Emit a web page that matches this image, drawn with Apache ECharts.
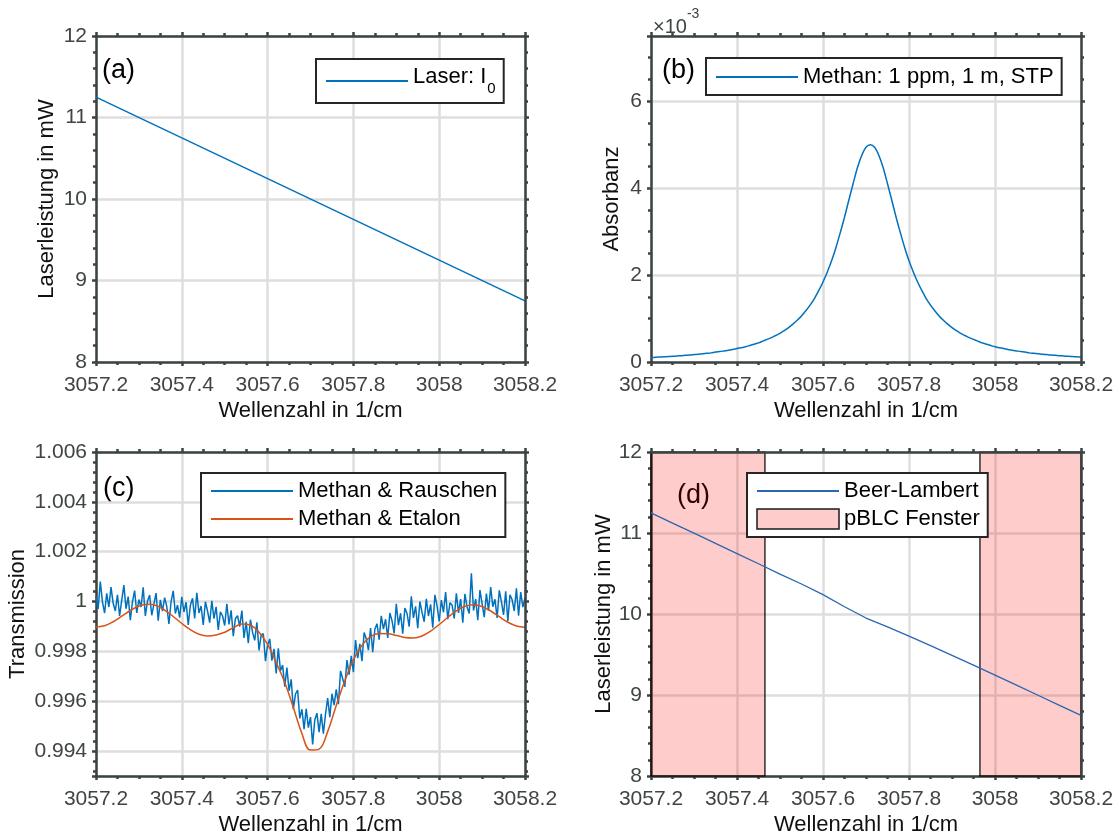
<!DOCTYPE html>
<html>
<head>
<meta charset="utf-8">
<title>Methan Absorption</title>
<script src="https://cdn.jsdelivr.net/npm/echarts@6/dist/echarts.min.js"></script>
<style>
  html, body { margin: 0; padding: 0; background: #fff; }
  #chart { width: 1118px; height: 837px; }
</style>
</head>
<body>
<div id="chart"></div>
<script>
// Wellenzahl-Bereich (1/cm), gilt fuer alle vier Diagramme
var waveLimits = [3057.2, 3058.2];
var powerLimits = [8, 12];
var absLimits = [0, 7.5];
var transLimits = [0.993, 1.006];

// (a) Laserleistung I0
var laserWave = [3057.2, 3058.2];
var laserPower = [11.25, 8.75];

// (b) Absorbanz (x 10^-3), alle 0.01 1/cm ab 3057.2
var absStart = 3057.2;
var absStep = 0.01;
var absValue = [
  0.10, 0.11, 0.115, 0.12, 0.125, 0.13, 0.14, 0.145, 0.155, 0.16,
  0.17, 0.18, 0.19, 0.20, 0.21, 0.23, 0.24, 0.255, 0.27, 0.29,
  0.31, 0.33, 0.35, 0.38, 0.41, 0.44, 0.48, 0.52, 0.56, 0.61,
  0.66, 0.72, 0.79, 0.87, 0.96, 1.06, 1.18, 1.31, 1.46, 1.64,
  1.84, 2.07, 2.33, 2.63, 2.97, 3.33, 3.72, 4.10, 4.47, 4.75,
  4.94, 5.00, 4.94, 4.75, 4.47, 4.10, 3.72, 3.33, 2.97, 2.63,
  2.33, 2.07, 1.84, 1.64, 1.46, 1.31, 1.18, 1.06, 0.96, 0.87,
  0.79, 0.72, 0.66, 0.61, 0.56, 0.52, 0.48, 0.44, 0.41, 0.38,
  0.35, 0.33, 0.31, 0.29, 0.27, 0.255, 0.24, 0.23, 0.21, 0.20,
  0.19, 0.18, 0.17, 0.16, 0.155, 0.145, 0.14, 0.13, 0.125, 0.12,
  0.115
];

// (c) Transmission mit Rauschen, alle 0.005 1/cm ab 3057.2
var rauschStart = 3057.2;
var rauschStep = 0.005;
var rauschValue = [
  1.0002, 0.9997, 1.0008, 0.99999, 0.99954, 1.00033, 0.99978, 1.00058, 0.99993, 0.99962,
  1.00027, 0.99942, 1.00006, 1.00066, 0.99971, 1.0002, 0.99925, 0.99999, 1.00044, 0.99954,
  1.00008, 0.99978, 1.00057, 0.99942, 1.00001, 1.00026, 0.99945, 0.9999, 1.00034, 0.99923,
  1.00007, 0.99962, 1.00016, 0.9998, 0.9991, 0.99999, 1.00043, 0.99952, 0.99986, 0.99935,
  1.00019, 0.99958, 0.99997, 0.99906, 0.99985, 1.00013, 0.99932, 1.00035, 0.99954, 0.99982,
  0.99906, 0.99999, 0.99962, 0.99915, 1.00003, 0.99931, 0.99979, 0.99886, 0.99959, 0.99942,
  0.99904, 0.99991, 0.99908, 0.99965, 0.99861, 0.99932, 0.99943, 0.99899, 0.99964, 0.99854,
  0.99919, 0.99833, 0.99927, 0.99876, 0.99844, 0.99917, 0.99804, 0.99865, 0.99871, 0.99761,
  0.99826, 0.9985, 0.99763, 0.9981, 0.99712, 0.99812, 0.99722, 0.99745, 0.99658, 0.99735,
  0.99642, 0.99688, 0.99568, 0.99629, 0.99645, 0.99531, 0.99568, 0.99488, 0.9957, 0.99494,
  0.99536, 0.99427, 0.99525, 0.99552, 0.99476, 0.99549, 0.9947, 0.99548, 0.99613, 0.99536,
  0.9963, 0.99584, 0.99648, 0.99588, 0.99722, 0.9969, 0.99658, 0.99765, 0.99707, 0.99782,
  0.99717, 0.99845, 0.99773, 0.9983, 0.99761, 0.99876, 0.99851, 0.99805, 0.99894, 0.99797,
  0.99889, 0.99911, 0.99847, 0.99943, 0.99889, 0.99929, 0.99854, 0.99954, 0.99923, 0.99872,
  0.99991, 0.99905, 0.99953, 0.99871, 0.99974, 0.99952, 0.99899, 1.00021, 0.99934, 0.99981,
  0.99893, 1.0, 0.99957, 0.99919, 1.00011, 0.99942, 0.99989, 0.99895, 1.00027, 0.99983,
  0.9992, 1.00006, 0.99957, 1.00038, 0.99929, 0.99995, 0.99986, 0.99932, 1.00033, 0.99954,
  1.0001, 0.99915, 1.00031, 0.99977, 0.99952, 1.00113, 0.99964, 1.0001, 0.99925, 1.00046,
  0.99991, 0.99937, 1.00032, 0.99963, 1.00058, 0.99979, 1.00009, 0.99934, 1.00045, 1.0,
  0.99946, 1.00041, 0.99921, 1.00027, 1.00007, 0.99962, 1.00053, 0.99943, 1.00038, 0.99978,
  1.00014
];

// (c) Transmission mit Etalon, alle 0.02 1/cm ab 3057.2
var etalonStart = 3057.2;
var etalonStep = 0.02;
var etalonValue = [
  0.99898, 0.99903, 0.99919, 0.99941, 0.99964, 0.99982, 0.99989, 0.99984, 0.99966, 0.9994,
  0.99912, 0.99887, 0.99869, 0.99862, 0.99866, 0.99877, 0.99895, 0.9991, 0.99905, 0.99877,
  0.99828, 0.99755, 0.99675, 0.99575, 0.9947, 0.99404, 0.99408, 0.99478, 0.99583, 0.99682,
  0.99766, 0.99824, 0.99859, 0.99872, 0.99871, 0.99864, 0.99856, 0.99854, 0.99862, 0.99881,
  0.99908, 0.99936, 0.99963, 0.99981, 0.99987, 0.9998, 0.99962, 0.99939, 0.99917, 0.99902,
  0.99897
];

// (d) Beer-Lambert und pBLC Fenster
var beerWave = [3057.20, 3057.25, 3057.30, 3057.35, 3057.40, 3057.45, 3057.50, 3057.55, 3057.60,
  3057.65, 3057.70, 3057.75, 3057.80, 3057.85, 3057.90, 3057.95, 3058.00, 3058.05, 3058.10,
  3058.15, 3058.20];
var beerPower = [11.248, 11.123, 10.998, 10.872, 10.746, 10.62, 10.493, 10.37, 10.24,
  10.09, 9.95, 9.84, 9.728, 9.61, 9.49, 9.368, 9.245, 9.121, 8.997,
  8.872, 8.748];
var fensterStart = [3057.2, 3057.965];
var fensterEnd = [3057.465, 3058.2];

var FONT = '"Liberation Sans", Arial, Helvetica, sans-serif';
var AXIS_COLOR = '#3c4343';
var GRID_COLOR = '#dedede';
var BLUE = '#0072BD';
var ORANGE = '#D95319';

function pairs(xs, ys) {
  return xs.map(function (x, i) { return [x, ys[i]]; });
}

function stepped(start, step, ys) {
  return ys.map(function (y, i) { return [start + i * step, y]; });
}

var grids = [
  { left: 96, top: 36, width: 429, height: 326 },
  { left: 651, top: 36, width: 430, height: 326 },
  { left: 96, top: 452, width: 429, height: 324 },
  { left: 651, top: 452, width: 430, height: 324 }
];

// Achse mit Rahmen, nach aussen zeigenden Ticks
function axis(gridIndex, limits, extra, main) {
  var a = {
    type: 'value',
    gridIndex: gridIndex,
    min: limits[0],
    max: limits[1],
    axisLine: { show: true, onZero: false, lineStyle: { color: AXIS_COLOR, width: 2.5 } },
    axisTick: { show: true, inside: false, length: 4, lineStyle: { color: AXIS_COLOR, width: 2.5 } },
    minorTick: { show: true, splitNumber: 4, length: 3, lineStyle: { color: AXIS_COLOR, width: 2.5 } },
    splitLine: { show: false },
    axisLabel: { show: false }
  };
  if (main) {
    a.splitLine = { show: true, lineStyle: { color: GRID_COLOR, width: 2.5 } };
    a.axisLabel = { show: true, color: '#3f4444', fontSize: 21, fontFamily: FONT, margin: 9 };
    a.nameLocation = 'middle';
    a.nameTextStyle = { color: '#111', fontSize: 22, fontFamily: FONT };
  } else {
    a.z = 5;
  }
  return Object.assign(a, extra || {});
}

function xAxes(gridIndex) {
  var fmt = function (v) { return String(+v.toFixed(2)); };
  var main = axis(gridIndex, waveLimits, { position: 'bottom', interval: 0.2, name: 'Wellenzahl in 1/cm', nameGap: 38 }, true);
  main.axisLabel.formatter = fmt;
  main.axisLabel.margin = 13;
  var top = axis(gridIndex, waveLimits, { position: 'top', interval: 0.2 }, false);
  return [main, top];
}

var xa = [].concat(xAxes(0), xAxes(1), xAxes(2), xAxes(3));

var yA = axis(0, powerLimits, { position: 'left', interval: 1, name: 'Laserleistung in mW', nameGap: 38 }, true);
yA.minorTick.splitNumber = 5;
var yAr = axis(0, powerLimits, { position: 'right', interval: 1 }, false);
yAr.minorTick.splitNumber = 5;

var yB = axis(1, absLimits, { position: 'left', splitNumber: 4, name: 'Absorbanz', nameGap: 28 }, true);
yB.axisLabel.showMaxLabel = false;
var yBr = axis(1, absLimits, { position: 'right', splitNumber: 4 }, false);

var yC = axis(2, transLimits, { position: 'left', splitNumber: 6, name: 'Transmission', nameGap: 67 }, true);
yC.minorTick.splitNumber = 5;
yC.axisLabel.showMinLabel = false;
yC.axisLabel.formatter = function (v) { return String(+v.toFixed(4)); };
var yCr = axis(2, transLimits, { position: 'right', splitNumber: 6 }, false);
yCr.minorTick.splitNumber = 5;

var yD = axis(3, powerLimits, { position: 'left', interval: 1, name: 'Laserleistung in mW', nameGap: 35 }, true);
yD.minorTick.splitNumber = 5;
var yDr = axis(3, powerLimits, { position: 'right', interval: 1 }, false);
yDr.minorTick.splitNumber = 5;

var ya = [yA, yAr, yB, yBr, yC, yCr, yD, yDr];

var legendBase = {
  orient: 'vertical',
  itemWidth: 82,
  itemHeight: 20,
  itemGap: 6,
  selectedMode: false,
  backgroundColor: '#fff',
  borderColor: '#262626',
  borderWidth: 2,
  borderRadius: 0,
  padding: [7, 8, 7, 9],
  textStyle: { fontSize: 22, color: '#000', fontFamily: FONT }
};

function legend(extra) {
  return Object.assign({}, legendBase, extra);
}

// Linien-Eintrag ohne Symbol in der Legende
function lineEntry(name) {
  return { name: name, itemStyle: { opacity: 0 } };
}

function lineSeries(name, xIndex, data, color, width) {
  return {
    name: name, type: 'line', xAxisIndex: xIndex, yAxisIndex: xIndex,
    data: data, symbol: 'none', showSymbol: false,
    lineStyle: { color: color, width: width },
    itemStyle: { color: color, opacity: 0 }
  };
}

var absSeries = lineSeries('Methan: 1 ppm, 1 m, STP', 2, stepped(absStart, absStep, absValue), BLUE, 1.5);
absSeries.smooth = 0.3;
var etalonSeries = lineSeries('Methan & Etalon', 4, stepped(etalonStart, etalonStep, etalonValue), ORANGE, 1.5);
etalonSeries.smooth = 0.4;
var rauschSeries = lineSeries('Methan & Rauschen', 4, stepped(rauschStart, rauschStep, rauschValue), BLUE, 1.5);
rauschSeries.sampling = null;

var option = {
  animation: false,
  backgroundColor: '#fff',
  grid: grids,
  xAxis: xa,
  yAxis: ya,
  legend: [
    legend({
      data: [lineEntry('Laser: I0')], left: 316, top: 59,
      formatter: function () { return '{m|Laser: I}{s|0}'; },
      textStyle: {
        fontSize: 22, color: '#000', fontFamily: FONT,
        rich: {
          m: { fontSize: 22, fontFamily: FONT, lineHeight: 30, verticalAlign: 'top' },
          s: { fontSize: 15, fontFamily: FONT, lineHeight: 30, verticalAlign: 'bottom', padding: [0, 0, 0, 1] }
        }
      }
    }),
    legend({ data: [lineEntry('Methan: 1 ppm, 1 m, STP')], left: 706, top: 58, padding: [8, 8, 7, 9] }),
    legend({ data: [lineEntry('Methan & Rauschen'), lineEntry('Methan & Etalon')], left: 201, top: 473 }),
    legend({
      data: [lineEntry('Beer-Lambert'), {
        name: 'pBLC Fenster', icon: 'rect',
        itemStyle: { color: '#ffcccc', borderColor: '#1a1a1a', borderWidth: 1.5, opacity: 1 }
      }],
      left: 747, top: 473
    })
  ],
  graphic: [
    { type: 'text', left: 102, top: 57, style: { text: '(a)', fontSize: 27, fontFamily: FONT, fill: '#000' } },
    { type: 'text', left: 662, top: 57, style: { text: '(b)', fontSize: 27, fontFamily: FONT, fill: '#000' } },
    { type: 'text', left: 103, top: 475, style: { text: '(c)', fontSize: 27, fontFamily: FONT, fill: '#000' } },
    { type: 'text', left: 677, top: 482, style: { text: '(d)', fontSize: 27, fontFamily: FONT, fill: '#000' } },
    {
      type: 'text', left: 653, top: 7,
      style: {
        text: '{a|\u00d710}{b|-3}',
        rich: {
          a: { fontSize: 20, fontFamily: FONT, fill: '#3f4444', lineHeight: 30, verticalAlign: 'bottom' },
          b: { fontSize: 14, fontFamily: FONT, fill: '#3f4444', lineHeight: 30, verticalAlign: 'top' }
        }
      }
    }
  ],
  series: [
    lineSeries('Laser: I0', 0, pairs(laserWave, laserPower), BLUE, 1.5),
    absSeries,
    rauschSeries,
    etalonSeries,
    {
      name: 'pBLC Fenster', type: 'custom', xAxisIndex: 6, yAxisIndex: 6,
      data: fensterStart.map(function (s, i) { return [s, fensterEnd[i]]; }),
      encode: { x: [0, 1] },
      clip: false,
      itemStyle: { color: '#ffcccc', borderColor: '#000', borderWidth: 1.2 },
      renderItem: function (params, api) {
        var p0 = api.coord([api.value(0), powerLimits[0]]);
        var p1 = api.coord([api.value(1), powerLimits[1]]);
        return {
          type: 'rect',
          shape: { x: p0[0], y: p1[1], width: p1[0] - p0[0], height: p0[1] - p1[1] },
          style: { fill: 'rgba(255,0,0,0.2)', stroke: '#000', lineWidth: 1.2 }
        };
      }
    },
    lineSeries('Beer-Lambert', 6, pairs(beerWave, beerPower), '#2b66b0', 1.3)
  ]
};

var chart = echarts.init(document.getElementById('chart'), null, { renderer: 'canvas' });
chart.setOption(option);
window.addEventListener('resize', function () { chart.resize(); });
</script>
</body>
</html>
